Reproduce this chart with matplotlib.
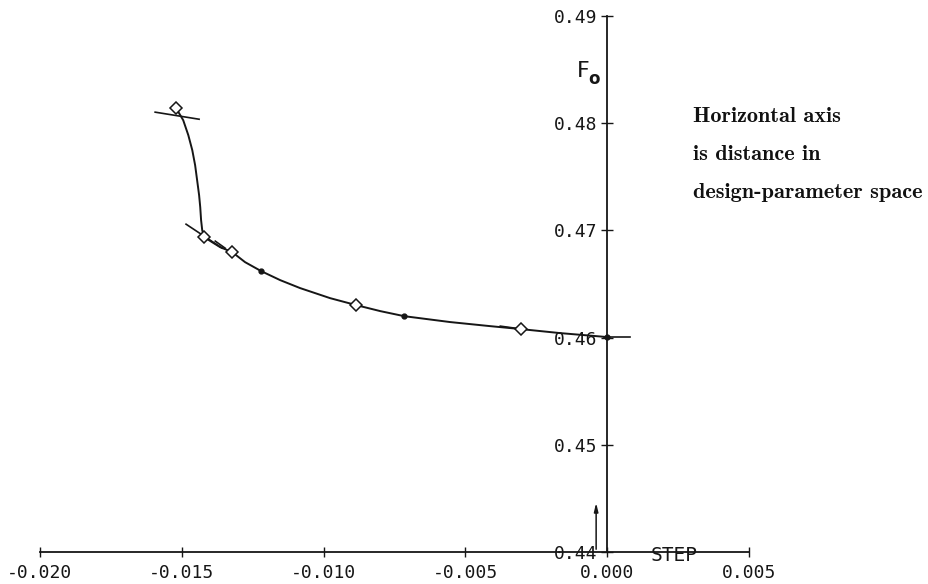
import numpy as np
import matplotlib
matplotlib.use("Agg")
import matplotlib.pyplot as plt

# Objective F_o traced along the search direction (STEP)
steep_step = [-0.01520, -0.01495, -0.01477, -0.01463, -0.01453, -0.01446,
              -0.01439, -0.01435, -0.01432, -0.01428, -0.01421]
steep_f = [0.48140, 0.48028, 0.47888, 0.47748, 0.47608, 0.47469,
           0.47329, 0.47217, 0.47096, 0.47002, 0.46937]

curve_step = [-0.01421, -0.01393, -0.01365, -0.01322, -0.01277, -0.01220,
              -0.01153, -0.01083, -0.00977, -0.00885, -0.00800, -0.00716,
              -0.00554, -0.00413, -0.00303, -0.00166, 0.0]
curve_f = [0.46937, 0.46890, 0.46844, 0.46797, 0.46704, 0.46620,
           0.46536, 0.46462, 0.46368, 0.46303, 0.46247, 0.46200,
           0.46145, 0.46107, 0.46079, 0.46042, 0.46005]

# evaluated points
diamond_step = [-0.01520, -0.01421, -0.01322, -0.00885, -0.00303]
diamond_f = [0.48140, 0.46937, 0.46797, 0.46303, 0.46079]
dot_step = [-0.01220, -0.00716, 0.0]
dot_f = [0.46620, 0.46200, 0.46005]

# short slope segments drawn at some evaluations
slopes = [
    ([-0.01594, -0.01439], [0.48103, 0.48037]),
    ([-0.01485, -0.01358], [0.47058, 0.46835]),
    ([-0.01382, -0.01347], [0.46900, 0.46834]),
    ([-0.00377, -0.00300], [0.46107, 0.46079]),
    ([-0.00010, 0.00081], [0.46005, 0.46005]),
]

x_ticks = [-0.020, -0.015, -0.010, -0.005, 0.000, 0.005]
y_ticks = [0.44, 0.45, 0.46, 0.47, 0.48, 0.49]
note = ["Horizontal axis", "is distance in", "design-parameter space"]

ink = "#161616"
mono = "DejaVu Sans Mono"

fig = plt.figure(figsize=(9.29, 5.84), dpi=100)
ax = fig.add_axes([40 / 929, 32 / 584, 709 / 929, 536 / 584])
ax.set_xlim(-0.020, 0.005)
ax.set_ylim(0.44, 0.49)

for s in ["top", "right"]:
    ax.spines[s].set_visible(False)
ax.spines["left"].set_position(("data", 0.0))
ax.spines["left"].set_linewidth(1.3)
ax.spines["bottom"].set_linewidth(1.3)
ax.spines["left"].set_color(ink)
ax.spines["bottom"].set_color(ink)

ax.set_xticks(x_ticks)
ax.set_xticklabels([f"{v:.3f}" for v in x_ticks])
ax.set_yticks(y_ticks)
ax.set_yticklabels([f"{v:.2f}" for v in y_ticks])
ax.tick_params(axis="x", direction="inout", length=7, width=1.0, pad=5,
               labelsize=13, colors=ink)
ax.tick_params(axis="y", direction="inout", length=8, width=1.0, pad=3,
               labelsize=13, colors=ink)
for lab in ax.get_xticklabels() + ax.get_yticklabels():
    lab.set_fontfamily(mono)

ax.plot(steep_step, steep_f, color=ink, lw=1.4, clip_on=False)
ax.plot(curve_step, curve_f, color=ink, lw=1.4, clip_on=False)
for xs, ys in slopes:
    ax.plot(xs, ys, color=ink, lw=1.2, clip_on=False)
ax.plot(diamond_step, diamond_f, linestyle="none", marker="D", markersize=6.5,
        markerfacecolor="white", markeredgecolor=ink, markeredgewidth=1.1,
        clip_on=False, zorder=3)
ax.plot(dot_step, dot_f, linestyle="none", marker="o", markersize=3.5,
        color=ink, clip_on=False, zorder=3)

# small marker arrow near the origin
ax.annotate("", xy=(-0.00039, 0.44485), xytext=(-0.00039, 0.44),
            arrowprops=dict(arrowstyle="-|>,head_length=0.5,head_width=0.12",
                            color=ink, lw=1.1))

ax.text(0.00236, 0.43972, "STEP", fontfamily=mono, fontsize=14,
        ha="center", va="center", color=ink)
ax.text(-0.00086, 0.48485, "F", fontfamily="DejaVu Sans", fontsize=16,
        ha="center", va="center", color=ink)
ax.text(-0.00048, 0.48415, "o", fontfamily="DejaVu Sans", fontsize=12,
        fontweight="bold", ha="center", va="center", color=ink)

for i, line in enumerate(note):
    fig.text(693 / 929, 1 - (116 + 38.5 * i) / 584, line, fontfamily="cmb10",
             fontsize=16, ha="left", va="center", color="#111111")

fig.savefig("out.png", dpi=100, facecolor="white")
